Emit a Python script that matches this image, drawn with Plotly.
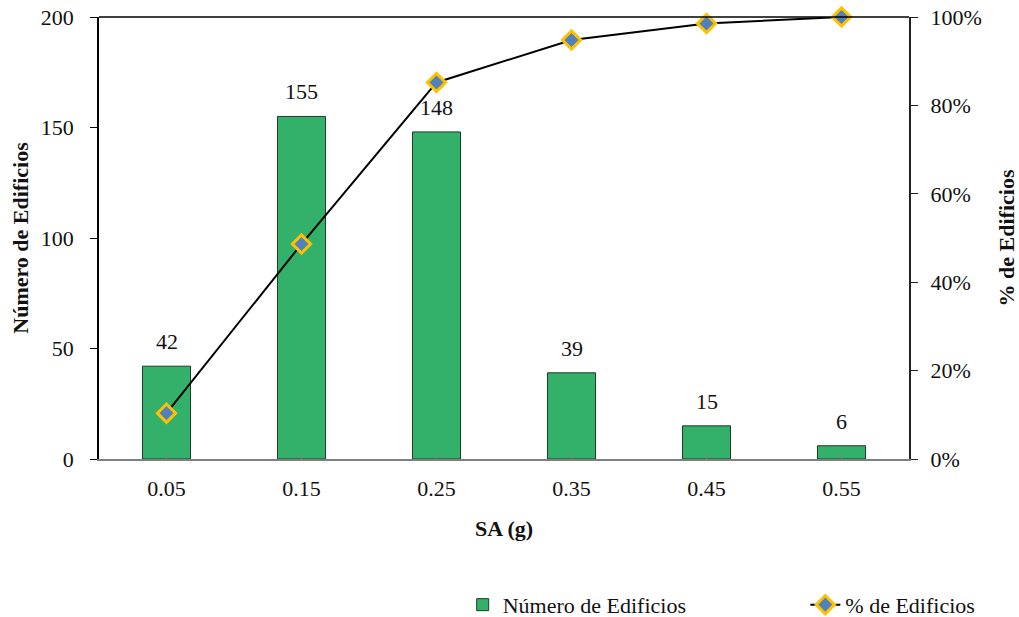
import plotly.graph_objects as go

# SA (g) bins, building counts per bin, and cumulative share of buildings
sa_bins = ["0.05", "0.15", "0.25", "0.35", "0.45", "0.55"]
num_edificios = [42, 155, 148, 39, 15, 6]
pct_edificios = [0.1037, 0.4864, 0.8519, 0.9481, 0.9852, 1.0]

FONT = "Liberation Serif"
FS = 22

fig = go.Figure()

fig.add_trace(go.Bar(
    x=sa_bins, y=num_edificios,
    name="Número de Edificios",
    marker=dict(color="#33B06A", line=dict(color="#1f3a28", width=1)),
    width=0.356,
    legend="legend",
))

fig.add_trace(go.Scatter(
    x=sa_bins, y=pct_edificios,
    name="% de Edificios",
    yaxis="y2",
    mode="lines+markers",
    line=dict(color="black", width=2),
    marker=dict(symbol="diamond", size=14, color="#4F81BD",
                line=dict(color="#FFC000", width=3)),
    cliponaxis=False,
    legend="legend2",
))

# value labels above each bar (category axis positions are indices)
annotations = [
    dict(x=i, y=val, xref="x", yref="y", text=str(val), showarrow=False,
         yanchor="bottom", yshift=10, font=dict(family=FONT, size=FS, color="#111"))
    for i, val in enumerate(num_edificios)
]

legend_common = dict(
    orientation="h", yanchor="middle", y=-0.33, xanchor="left",
    font=dict(family=FONT, size=FS, color="#111"),
    bgcolor="rgba(0,0,0,0)",
)

fig.update_layout(
    width=1019, height=617,
    margin=dict(l=99, r=110, t=17, b=158, autoexpand=False),
    paper_bgcolor="white", plot_bgcolor="white",
    font=dict(family=FONT, size=FS, color="#111"),
    showlegend=True,
    legend=dict(x=0.449, **legend_common),
    legend2=dict(x=0.872, **legend_common),
    annotations=annotations,
    xaxis=dict(
        type="category",
        title=dict(text="<b>SA (g)</b>", font=dict(family=FONT, size=FS), standoff=20),
        showline=True, linecolor="#808080", linewidth=2,
        ticks="inside", ticklen=5, tickcolor="#808080", tickwidth=1,
        ticklabelstandoff=9,
        showgrid=False,
        tickfont=dict(family=FONT, size=FS),
    ),
    yaxis=dict(
        range=[0, 200], dtick=50,
        title=dict(text="<b>Número de Edificios</b>", font=dict(family=FONT, size=FS), standoff=6),
        showline=True, linecolor="black", linewidth=1.5,
        ticks="outside", ticklen=7, tickcolor="black",
        ticklabelstandoff=12,
        showgrid=False, zeroline=False,
        tickfont=dict(family=FONT, size=FS),
    ),
    yaxis2=dict(
        range=[0, 1], dtick=0.2, tickformat=".0%",
        overlaying="y", side="right",
        title=dict(text="<b>% de Edificios</b>", font=dict(family=FONT, size=FS), standoff=21),
        showline=True, linecolor="#222", linewidth=2,
        ticks="outside", ticklen=7, tickcolor="#222",
        ticklabelstandoff=8,
        showgrid=False, zeroline=False,
        tickfont=dict(family=FONT, size=FS),
    ),
    shapes=[dict(type="line", xref="paper", yref="paper", x0=0, x1=1, y0=1, y1=1,
                 line=dict(color="black", width=1.5))],
)

fig.write_html("out.html")
